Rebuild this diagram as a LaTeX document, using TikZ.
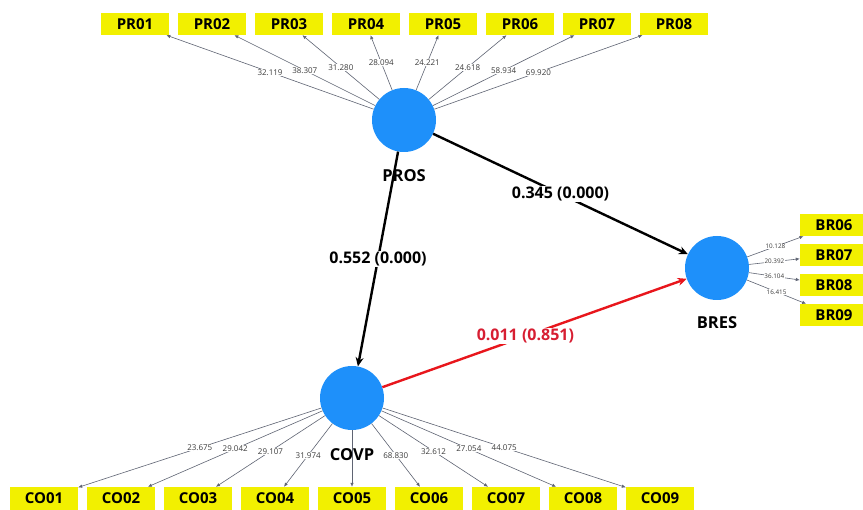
\documentclass[tikz,border=0pt]{standalone}
\usepackage{fontspec}
\setmainfont{Open Sans}
\usetikzlibrary{arrows.meta}
\definecolor{plsblue}{RGB}{30,144,250}
\definecolor{indyellow}{RGB}{242,240,0}
\definecolor{loadline}{RGB}{95,100,115}
\definecolor{loadtext}{RGB}{60,60,60}
\definecolor{pathred}{RGB}{232,22,28}
\definecolor{redtext}{RGB}{215,30,50}
\begin{document}
\begin{tikzpicture}[x=1pt,y=-1pt,
  latent/.style={circle,fill=plsblue,minimum size=64pt,inner sep=0pt},
  ind/.style={fill=indyellow,minimum width=68pt,minimum height=22pt,inner sep=0pt,
              font=\bfseries\fontsize{15}{15}\selectfont},
  load/.style={draw=loadline,line width=0.6pt,-{Latex[length=4pt,width=3.5pt]}},
  lab/.style={fill=white,inner sep=0.6pt,text=loadtext,font=\fontsize{8}{8}\selectfont},
  slab/.style={lab,font=\fontsize{6.3}{6.3}\selectfont},
  path/.style={line width=2.4pt,-{Stealth[length=9pt,width=8pt]}},
  plab/.style={fill=white,inner sep=1pt,font=\bfseries\fontsize{16}{16}\selectfont},
  lvname/.style={font=\bfseries\fontsize{16.5}{16.5}\selectfont}]
\useasboundingbox (0,0) rectangle (863,510);
\fill[white] (0,0) rectangle (863,510);

% latent variables
\node[latent] (PROS) at (404,120) {};
\node[latent] (BRES) at (717,268) {};
\node[latent] (COVP) at (352,398) {};

% indicator boxes
\foreach \i/\x in {1/135,2/212,3/289,4/366,5/443,6/520,7/597,8/674}
  \node[ind] (PR0\i) at (\x,24) {PR0\i};
\foreach \i/\y in {6/225,7/255,8/285,9/315}
  \node[ind] (BR0\i) at (834,\y) {BR0\i};
\foreach \i/\x in {1/44,2/121,3/198,4/275,5/352,6/429,7/506,8/583,9/660}
  \node[ind,minimum height=23pt] (CO0\i) at (\x,498.5) {CO0\i};

% outer loadings of PROS
\draw[load] (PROS) -- node[lab] {32.119} (PR01);
\draw[load] (PROS) -- node[lab] {38.307} (PR02);
\draw[load] (PROS) -- node[lab] {31.280} (PR03);
\draw[load] (PROS) -- node[lab] {28.094} (PR04);
\draw[load] (PROS) -- node[lab] {24.221} (PR05);
\draw[load] (PROS) -- node[lab] {24.618} (PR06);
\draw[load] (PROS) -- node[lab] {58.934} (PR07);
\draw[load] (PROS) -- node[lab] {69.920} (PR08);

% outer loadings of BRES
\draw[load] (BRES) -- node[slab] {10.128} (BR06);
\draw[load] (BRES) -- node[slab] {20.392} (BR07);
\draw[load] (BRES) -- node[slab] {36.104} (BR08);
\draw[load] (BRES) -- node[slab] {16.415} (BR09);

% outer loadings of COVP
\draw[load] (COVP) -- node[lab] {23.675} (CO01);
\draw[load] (COVP) -- node[lab] {29.042} (CO02);
\draw[load] (COVP) -- node[lab] {29.107} (CO03);
\draw[load] (COVP) -- node[lab] {31.974} (CO04);
\draw[load] (COVP) -- (CO05);
\draw[load] (COVP) -- node[lab] {68.830} (CO06);
\draw[load] (COVP) -- node[lab] {32.612} (CO07);
\draw[load] (COVP) -- node[lab] {27.054} (CO08);
\draw[load] (COVP) -- node[lab] {44.075} (CO09);

% structural paths
\draw[path,black] (PROS) -- node[plab] {0.552 (0.000)} (COVP);
\draw[path,black] (PROS) -- node[plab] {0.345 (0.000)} (BRES);
\draw[path,pathred] (COVP) -- node[plab,text=redtext,pos=0.47] {0.011 (0.851)} (BRES);

% construct names
\node[lvname] (PROSname) at (404,176) {PROS};
\node[lvname] (BRESname) at (717,323) {BRES};
\node[lvname] (COVPname) at (352,455) {COVP};
\end{tikzpicture}
\end{document}
